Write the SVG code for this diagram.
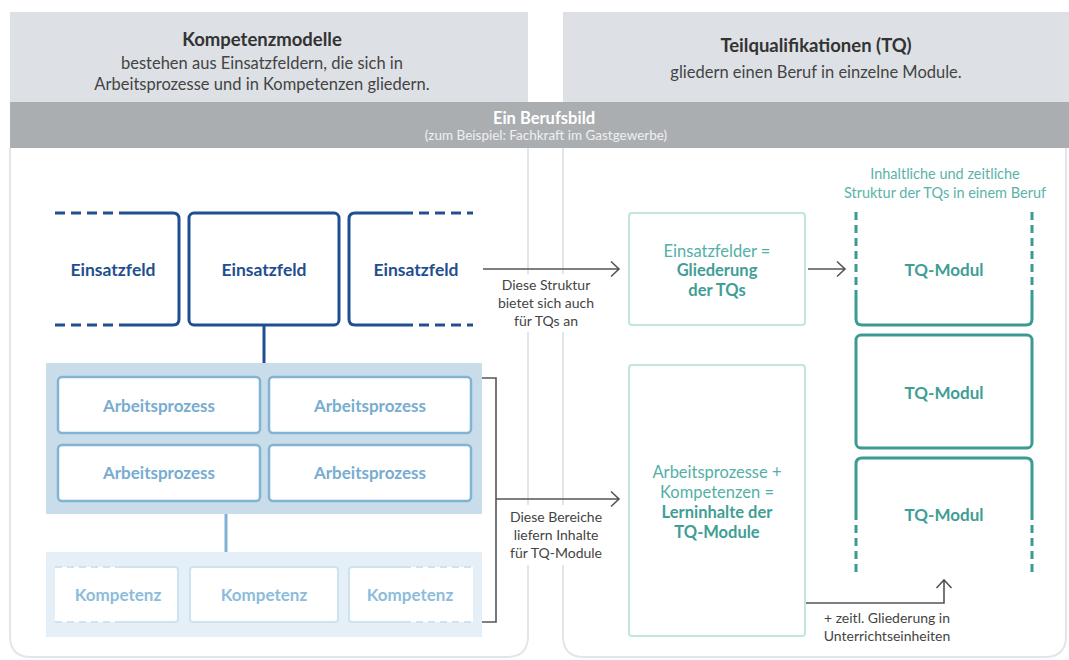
<svg xmlns="http://www.w3.org/2000/svg" width="1069" height="660" viewBox="0 0 1069 660">
<style>
text{font-family:Lato,"Open Sans","Liberation Sans",sans-serif;text-anchor:middle}
.hd{font-size:18.5px;font-weight:bold;fill:#333}
.hs{font-size:16.5px;fill:#444}
.band1{font-size:16.5px;font-weight:bold;fill:#fff}
.band2{font-size:13.5px;fill:#eef0f1}
.ef{font-size:17.5px;font-weight:bold;fill:#1f4f8f}
.ap{font-size:17px;font-weight:bold;fill:#78acd1}
.kp{font-size:17px;font-weight:bold;fill:#8dbcdb}
.lbl{font-size:14px;fill:#444}
.tl{font-size:16.5px;fill:#52b0a6}
.tb{font-size:16.5px;font-weight:bold;fill:#3f9e95}
.tq{font-size:17px;font-weight:bold;fill:#3f9e95}
.tt{font-size:14.5px;fill:#5ab3a9}
.blue{fill:none;stroke:#1f4f8f;stroke-width:3}
.bluedash{fill:none;stroke:#1f4f8f;stroke-width:3;stroke-dasharray:10 6}
.apbox{fill:#fff;stroke:#80b3d4;stroke-width:2.5}
.kpbox{fill:#fff;stroke:#cfe2ef;stroke-width:2}
.kpdash{fill:none;stroke:#cfe2ef;stroke-width:2;stroke-dasharray:7 5}
.teal{fill:none;stroke:#3d9a92;stroke-width:3}
.tealdash{fill:none;stroke:#3d9a92;stroke-width:3;stroke-dasharray:8 5}
.ltbox{fill:#fff;stroke:#c3e5e0;stroke-width:2}
.panel{fill:none;stroke:#e3e6e9;stroke-width:2}
.arr{fill:none;stroke:#555;stroke-width:1.6}
</style>

<g id="panels">
<rect x="10" y="12" width="518" height="90" fill="#dde1e5"/>
<rect x="563" y="12" width="506" height="90" fill="#dde1e5"/>
<path class="panel" d="M10,148 V636 Q10,657 31,657 H507 Q528,657 528,636 V148"/>
<path class="panel" d="M563,148 V636 Q563,657 584,657 H1045 Q1066,657 1066,636 V148"/>
<rect x="10" y="102" width="1059" height="46" fill="#abaeb1"/>
</g>

<g id="header-left">
<text class="hd" x="262" y="46">Kompetenzmodelle</text>
<text class="hs" x="262" y="69">bestehen aus Einsatzfeldern, die sich in</text>
<text class="hs" x="262" y="90">Arbeitsprozesse und in Kompetenzen gliedern.</text>
</g>
<g id="header-right">
<text class="hd" x="816" y="52">Teilqualifikationen (TQ)</text>
<text class="hs" x="816" y="78">gliedern einen Beruf in einzelne Module.</text>
</g>
<g id="band">
<text class="band1" x="544" y="124">Ein Berufsbild</text>
<text class="band2" x="546" y="140">(zum Beispiel: Fachkraft im Gastgewerbe)</text>
</g>

<g id="connectors">
<line x1="264" y1="325" x2="264" y2="363" stroke="#1f4f8f" stroke-width="3"/>
<line x1="226" y1="514" x2="226" y2="552" stroke="#7fb1d3" stroke-width="3"/>
<path class="arr" d="M482,378 H496 V622 H482"/>
<rect x="500" y="274" width="92" height="58" fill="#fff"/>
<rect x="503" y="505" width="106" height="60" fill="#fff"/>
<path class="arr" d="M483,269 H619 M611,261.5 L619,269 L611,276.5"/>
<path class="arr" d="M496,499 H619 M611,491.5 L619,499 L611,506.5"/>
<path class="arr" d="M808,269 H845 M837,261.5 L845,269 L837,276.5"/>
<path class="arr" d="M806,603 H944 V580 M936.5,588 L944,580 L951.5,588"/>
</g>

<g id="einsatzfeld-1">
<path class="bluedash" d="M55,213 H127 M55,325 H127"/>
<path class="blue" d="M127,213 H173 Q179,213 179,219 V319 Q179,325 173,325 H127"/>
<text class="ef" x="113" y="276">Einsatzfeld</text>
</g>
<g id="einsatzfeld-2">
<rect class="blue" x="189" y="213" width="150" height="112" rx="5"/>
<text class="ef" x="264" y="276">Einsatzfeld</text>
</g>
<g id="einsatzfeld-3">
<path class="bluedash" d="M403,213 H473 M403,325 H473"/>
<path class="blue" d="M403,213 H355 Q349,213 349,219 V319 Q349,325 355,325 H403"/>
<text class="ef" x="416" y="276">Einsatzfeld</text>
</g>

<g id="arbeitsprozesse">
<rect x="46" y="363" width="436" height="151" fill="#c8dcea"/>
<rect class="apbox" x="58" y="377" width="202" height="56" rx="4"/>
<rect class="apbox" x="269" y="377" width="202" height="56" rx="4"/>
<rect class="apbox" x="58" y="445" width="202" height="56" rx="4"/>
<rect class="apbox" x="269" y="445" width="202" height="56" rx="4"/>
<text class="ap" x="159" y="412">Arbeitsprozess</text>
<text class="ap" x="370" y="412">Arbeitsprozess</text>
<text class="ap" x="159" y="479">Arbeitsprozess</text>
<text class="ap" x="370" y="479">Arbeitsprozess</text>
</g>

<g id="kompetenzen">
<rect x="46" y="552" width="436" height="85" fill="#e4eff7"/>
<rect x="55" y="567" width="123" height="55" fill="#fff"/>
<path class="kpdash" d="M55,567 H122 M55,622 H122"/>
<path class="kpbox" d="M122,567 H175 Q178,567 178,570 V619 Q178,622 175,622 H122" style="fill:none"/>
<rect class="kpbox" x="190" y="567" width="148" height="55" rx="3"/>
<rect x="349" y="567" width="124" height="55" fill="#fff"/>
<path class="kpdash" d="M404,567 H473 M404,622 H473"/>
<path class="kpbox" d="M404,567 H352 Q349,567 349,570 V619 Q349,622 352,622 H404" style="fill:none"/>
<text class="kp" x="118" y="601">Kompetenz</text>
<text class="kp" x="264" y="601">Kompetenz</text>
<text class="kp" x="410" y="601">Kompetenz</text>
</g>

<g id="label-struktur">
<text class="lbl" x="546" y="290">Diese Struktur</text>
<text class="lbl" x="546" y="308">bietet sich auch</text>
<text class="lbl" x="546" y="326">für TQs an</text>
</g>
<g id="label-bereiche">
<text class="lbl" x="556" y="522">Diese Bereiche</text>
<text class="lbl" x="556" y="540">liefern Inhalte</text>
<text class="lbl" x="556" y="558">für TQ-Module</text>
</g>

<g id="gliederung">
<rect class="ltbox" x="629" y="213" width="176" height="112" rx="3"/>
<text class="tl" x="717" y="257">Einsatzfelder =</text>
<text class="tb" x="717" y="276">Gliederung</text>
<text class="tb" x="717" y="296">der TQs</text>
</g>
<g id="lerninhalte">
<rect class="ltbox" x="629" y="365" width="176" height="271" rx="3"/>
<text class="tl" x="717" y="478">Arbeitsprozesse +</text>
<text class="tl" x="717" y="498">Kompetenzen =</text>
<text class="tb" x="717" y="518">Lerninhalte der</text>
<text class="tb" x="717" y="538">TQ-Module</text>
</g>

<g id="struktur-label">
<text class="tt" x="945" y="179">Inhaltliche und zeitliche</text>
<text class="tt" x="945" y="198">Struktur der TQs in einem Beruf</text>
</g>

<g id="tq-modul-1">
<path class="tealdash" d="M856,212 V290 M1032,212 V290"/>
<path class="teal" d="M856,290 V319 Q856,325 862,325 H1026 Q1032,325 1032,319 V290"/>
<text class="tq" x="944" y="276">TQ-Modul</text>
</g>
<g id="tq-modul-2">
<rect class="teal" x="856" y="335" width="176" height="113" rx="5"/>
<text class="tq" x="944" y="399">TQ-Modul</text>
</g>
<g id="tq-modul-3">
<path class="teal" d="M856,512 V464 Q856,458 862,458 H1026 Q1032,458 1032,464 V512"/>
<path class="tealdash" d="M856,512 V572 M1032,512 V572"/>
<text class="tq" x="944" y="521">TQ-Modul</text>
</g>

<g id="label-zeitl">
<text class="lbl" x="887" y="623">+ zeitl. Gliederung in</text>
<text class="lbl" x="887" y="641">Unterrichtseinheiten</text>
</g>
</svg>
